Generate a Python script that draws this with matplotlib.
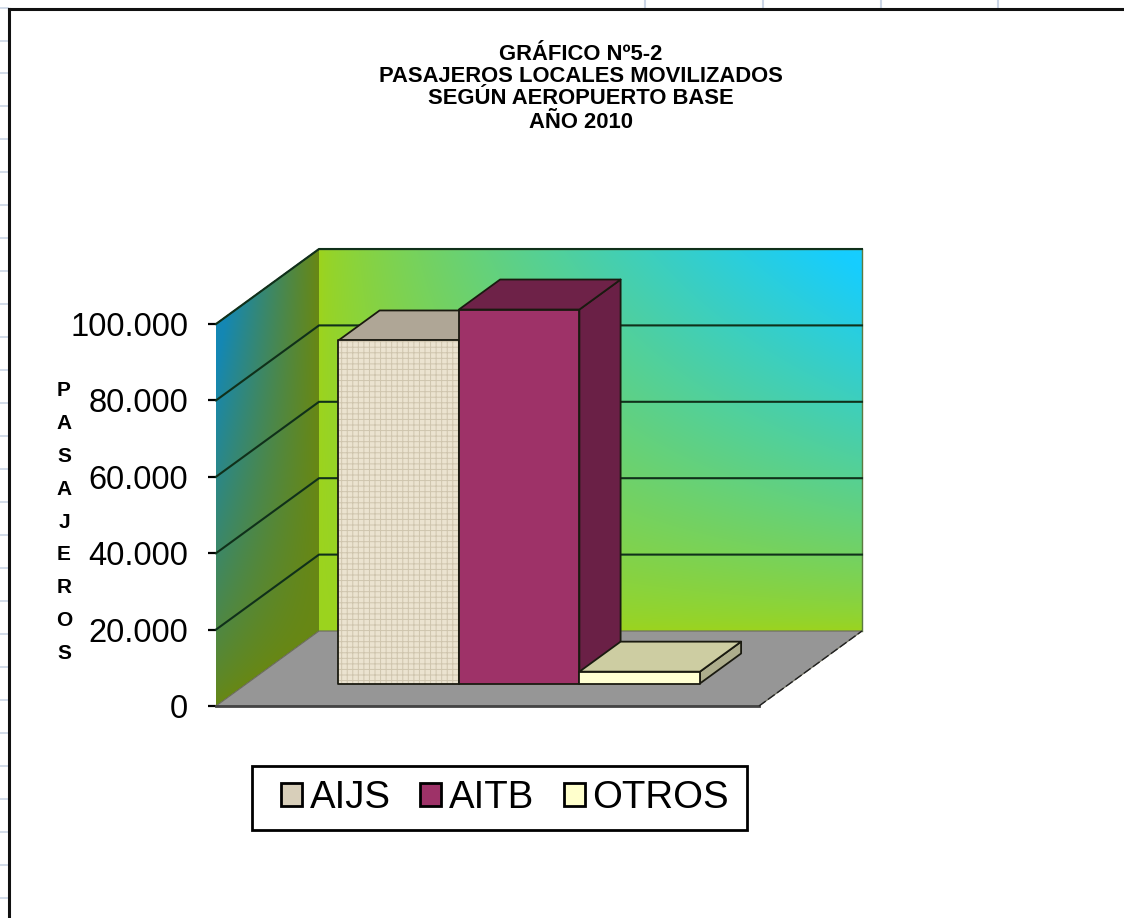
import numpy as np
import matplotlib
matplotlib.use('Agg')
import matplotlib.pyplot as plt
from matplotlib.patches import Polygon, Patch, Rectangle
from matplotlib.lines import Line2D

plt.rcParams['font.family'] = ['Liberation Sans', 'DejaVu Sans']
plt.rcParams['hatch.linewidth'] = 0.7

# --- DATOS ---
series = ['AIJS', 'AITB', 'OTROS']
valores = [89800, 97900, 3100]
ticks = [0, 20000, 40000, 60000, 80000, 100000]
tick_labels = ['0', '20.000', '40.000', '60.000', '80.000', '100.000']
titulo = ['GRÁFICO Nº5-2', 'PASAJEROS LOCALES MOVILIZADOS',
          'SEGÚN AEROPUERTO BASE', 'AÑO 2010']
eje_y = 'PASAJEROS'

W, H = 1124, 918
fig = plt.figure(figsize=(W / 100, H / 100), dpi=100)

# eje frontal del grafico, la profundidad se proyecta en oblicuo
ax = fig.add_axes([216 / W, 1 - 706 / H, 543 / W, 382 / H])
DX = 103 / 543
DY = 75 / 382 * 100000


def proy(x, v, d):
    return (x + d * DX, v + d * DY)


def cara(puntos, color, z, lw=1.3, ec='#1a1a10', **kw):
    p = Polygon(puntos, closed=True, fc=color, ec=ec, lw=lw, zorder=z,
                clip_on=False, joinstyle='round', **kw)
    ax.add_patch(p)
    return p


def degradado(rgb, extent, poligono, z):
    im = ax.imshow(rgb, extent=extent, origin='lower', aspect='auto',
                   interpolation='bilinear', zorder=z)
    # la imagen se sale del eje frontal: hay que abrir el recorte
    im.set_clip_box(fig.bbox)
    im.set_clip_path(Polygon(poligono, closed=True, transform=ax.transData))


def mezcla(c0, c1, t):
    c0 = np.array(c0) / 255
    c1 = np.array(c1) / 255
    return c0 + (c1 - c0) * t[..., None]


# pared del fondo
u, w = np.meshgrid(np.linspace(0, 1, 200), np.linspace(0, 1, 200))
pared = mezcla((156, 212, 30), (22, 205, 255), np.clip(u * w * 1.05, 0, 1) ** 0.75)
esq = [proy(0, 0, 1), proy(1, 0, 1), proy(1, 100000, 1), proy(0, 100000, 1)]
degradado(pared, [DX, 1 + DX, DY, 100000 + DY], esq, 1)
ax.plot(*zip(proy(0, 100000, 1), proy(1, 100000, 1), proy(1, 0, 1)),
        color='#5a7a40', lw=1.0, zorder=2, clip_on=False)

# pared lateral
u, w = np.meshgrid(np.linspace(0, 1, 200), np.linspace(0, 1, 300))
vv = (w * (100000 + DY) - u * DY) / 100000
t = np.clip((1 - u) * np.clip(vv, 0, 1) ** 0.8 * 1.1, 0, 1)
lateral = mezcla((104, 136, 20), (20, 135, 180), t)
esq = [proy(0, 0, 0), proy(0, 0, 1), proy(0, 100000, 1), proy(0, 100000, 0)]
degradado(lateral, [0, DX, 0, 100000 + DY], esq, 1)
ax.plot(*zip(proy(0, 100000, 0), proy(0, 100000, 1)),
        color='#2a3a30', lw=1.0, ls=(0, (5, 1)), zorder=2, clip_on=False)

# suelo
cara([proy(0, 0, 0), proy(1, 0, 0), proy(1, 0, 1), proy(0, 0, 1)], '#969696', 2, lw=0.8, ec='#6a6a5a')
ax.plot(*zip(proy(0, 0, 0), proy(1, 0, 0)), color='#444444', lw=2, zorder=3, clip_on=False)
ax.plot(*zip(proy(1, 0, 0), proy(1, 0, 1)), color='#222222', lw=1, ls=(0, (6, 2)), zorder=3, clip_on=False)

# lineas de division
for v in ticks[1:]:
    xs, ys = zip(proy(0, v, 0), proy(0, v, 1), proy(1, v, 1))
    ax.plot(xs, ys, color='#10301a', lw=1.5, zorder=3, clip_on=False)

# barras
ancho = 120.5 / 543
x0 = 91.5 / 543
d0, d1 = 0.3, 0.7
frentes = ['#EBE3D0', '#9E3268', '#FFFFD2']
techos = ['#AFA696', '#6E2248', '#CDCDA2']
lados = ['#8F8878', '#6A2046', '#ADAD8C']
for i, v in enumerate(valores):
    a = x0 + i * ancho
    b = a + ancho
    z = 4 + i
    cara([proy(b, 0, d0), proy(b, 0, d1), proy(b, v, d1), proy(b, v, d0)], lados[i], z)
    cara([proy(a, v, d0), proy(b, v, d0), proy(b, v, d1), proy(a, v, d1)], techos[i], z)
    frente = [proy(a, 0, d0), proy(b, 0, d0), proy(b, v, d0), proy(a, v, d0)]
    if i == 0:
        # textura de arpillera
        cara(frente, frentes[i], z + 0.1, lw=0, ec='#CFC5AE', hatch='+++')
        cara(frente, 'none', z + 0.2)
    else:
        cara(frente, frentes[i], z + 0.1)

ax.set_xlim(0, 1)
ax.set_ylim(0, 100000)

# ejes
for s in ax.spines.values():
    s.set_visible(False)
ax.set_xticks([])
ax.set_yticks(ticks)
ax.set_yticklabels(tick_labels, fontsize=23.5)
ax.tick_params(axis='y', length=6, width=1.6, pad=14, color='black')
ax.patch.set_visible(False)

# titulo
for linea, y in zip(titulo, [54, 76, 99, 122]):
    fig.text(581 / W, 1 - y / H, linea, ha='center', va='center', fontsize=15.8, fontweight='bold')

# titulo del eje, una letra por linea
for i, letra in enumerate(eje_y):
    fig.text(64 / W, 1 - (391 + i * 32.8) / H, letra, ha='center', va='center',
             fontsize=15, fontweight='bold')

# leyenda, con el marco aparte porque es mas ancho que su contenido
fig.add_artist(Rectangle((252 / W, 1 - 830 / H), 495 / W, 64 / H, transform=fig.transFigure,
                         fc='white', ec='black', lw=2, zorder=5))
colores = ['#D8CFBA', '#9E3268', '#FFFFCC']
handles = [Patch(fc=c, ec='black', lw=2) for c in colores]
leg = fig.legend(handles, series, loc='center', bbox_to_anchor=(505 / W, 1 - 798 / H), ncol=3,
                 fontsize=27.6, frameon=False, handlelength=0.54, handleheight=0.54,
                 handletextpad=0.2, columnspacing=0.78, borderpad=0, borderaxespad=0)
leg.set_zorder(6)


# marco exterior y restos de la hoja de calculo
def linea_fig(xs, ys, **kw):
    fig.add_artist(Line2D([x / W for x in xs], [1 - y / H for y in ys], **kw))


for y in [8, 41, 73, 106, 139, 172, 205, 238, 271, 304, 337, 370, 403, 436, 469, 502,
          535, 568, 601, 634, 667, 700, 733, 766, 799, 832, 865, 898]:
    linea_fig([0, 8], [y, y], color='#CBD5E5', lw=1.2)
for x in [645, 763, 881, 998]:
    linea_fig([x, x], [0, 8], color='#CBD5E5', lw=1.5)
linea_fig([9, 9], [918, 9], color='#111111', lw=2.2)
linea_fig([9, 1124], [9, 9], color='#111111', lw=2.2)

fig.savefig('out.png', dpi=100)
